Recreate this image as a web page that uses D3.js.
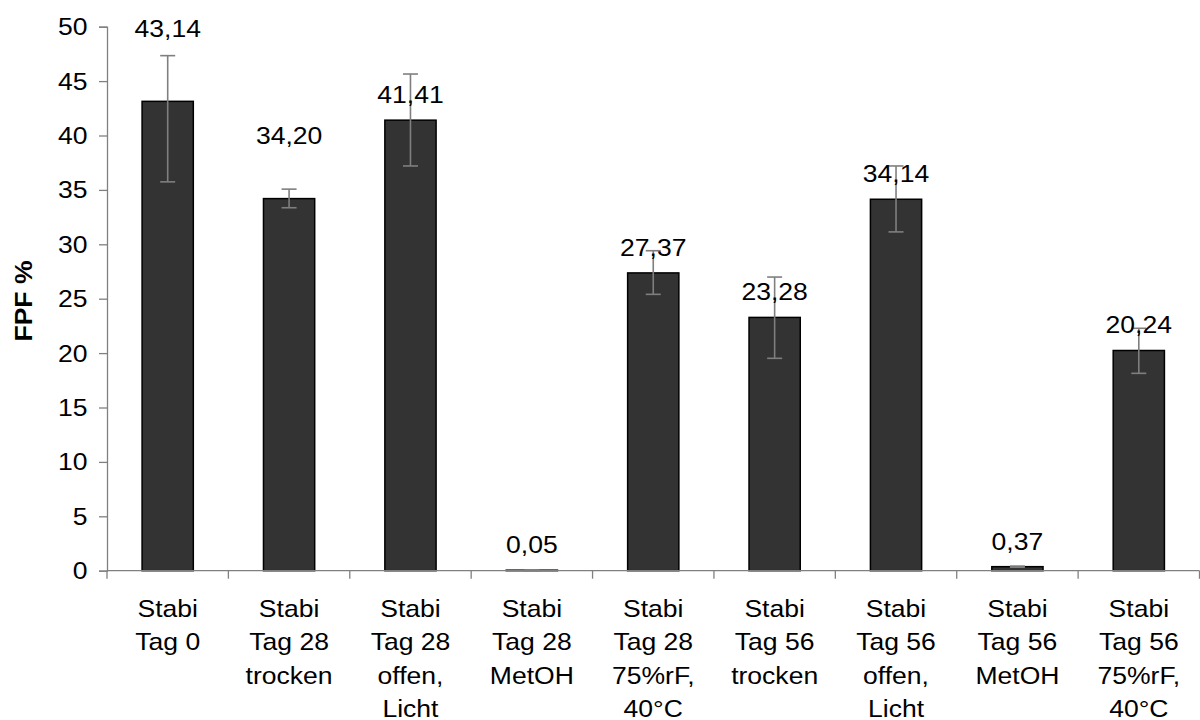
<!DOCTYPE html>
<html>
<head>
<meta charset="utf-8">
<script src="https://cdn.jsdelivr.net/npm/d3@7"></script>
<style>
  html, body { margin: 0; padding: 0; background: #fff; }
  svg { display: block; }
  text { font-family: "Liberation Sans", Arial, sans-serif; fill: #000; }
</style>
</head>
<body>
<svg id="chart" width="1200" height="720"></svg>
<script>
// ---- data ----
const categories = [
  "Stabi\nTag 0",
  "Stabi\nTag 28\ntrocken",
  "Stabi\nTag 28\noffen,\nLicht",
  "Stabi\nTag 28\nMetOH",
  "Stabi\nTag 28\n75%rF,\n40°C",
  "Stabi\nTag 56\ntrocken",
  "Stabi\nTag 56\noffen,\nLicht",
  "Stabi\nTag 56\nMetOH",
  "Stabi\nTag 56\n75%rF,\n40°C"
];
const values    = [43.14, 34.20, 41.41, 0.05, 27.37, 23.28, 34.14, 0.37, 20.24];
const errPlus   = [4.20, 0.87, 4.24, 0.03, 2.04, 3.71, 3.06, 0.05, 2.04];
const errMinus  = [7.40, 0.84, 4.21, 0.03, 1.97, 3.76, 3.00, 0.05, 2.10];
const yTicks    = [0, 5, 10, 15, 20, 25, 30, 35, 40, 45, 50];
const yTitle    = "FPF %";

// ---- layout ----
const svg = d3.select("#chart");
const mLeft = 107, mRight = 1199.5, mTop = 26.7, mBottom = 570.7;
const FS = 24.8;
const SX = 1.07;          // slight horizontal stretch of the original's text
const axisColor = "#808080";

const x = d3.scaleBand().domain(d3.range(categories.length)).range([mLeft, mRight]).padding(0);
const y = d3.scaleLinear().domain([0, 50]).range([mBottom, mTop]);
const barW = x.bandwidth() * 0.422;

// y axis
const yAxis = d3.axisLeft(y).tickValues(yTicks).tickSize(8).tickPadding(11).tickFormat(d3.format("d"));
const gy = svg.append("g").attr("transform", `translate(${mLeft},0)`).call(yAxis);
gy.select(".domain").attr("stroke", axisColor).attr("stroke-width", 1.3);
gy.selectAll(".tick line").attr("stroke", axisColor).attr("stroke-width", 1.3);
gy.selectAll(".tick text")
  .attr("font-size", FS)
  .attr("font-family", "Liberation Sans, Arial, sans-serif")
  .attr("fill", "#000")
  .attr("x", -19.5 / SX)
  .attr("transform", `scale(${SX},1)`);

// y title
svg.append("text")
  .attr("transform", `translate(23,301) rotate(-90) scale(${SX},1)`)
  .attr("text-anchor", "middle")
  .attr("dy", "0.36em")
  .attr("font-size", FS)
  .attr("font-weight", "bold")
  .text(yTitle);

// bars
svg.append("g").selectAll("rect").data(values).join("rect")
  .attr("x", (d, i) => x(i) + (x.bandwidth() - barW) / 2)
  .attr("y", d => y(d))
  .attr("width", barW)
  .attr("height", d => y(0) - y(d))
  .attr("fill", "#333333")
  .attr("stroke", "#000")
  .attr("stroke-width", 1.5);

// x axis line and ticks
svg.append("line")
  .attr("x1", mLeft).attr("x2", mRight)
  .attr("y1", y(0)).attr("y2", y(0))
  .attr("stroke", axisColor).attr("stroke-width", 1.3);
const bounds = categories.map((c, i) => x(i)).concat([mRight]);
svg.append("g").selectAll("line").data(bounds).join("line")
  .attr("x1", d => d).attr("x2", d => d)
  .attr("y1", y(0)).attr("y2", y(0) + 8)
  .attr("stroke", axisColor).attr("stroke-width", 1.3);

// error bars
const cap = 7.5;
const eg = svg.append("g").attr("stroke", "#7f7f7f").attr("stroke-width", 1.6);
values.forEach((v, i) => {
  const cx = x(i) + x.bandwidth() / 2;
  const yTop = y(v + errPlus[i]), yBot = y(v - errMinus[i]);
  eg.append("line").attr("x1", cx).attr("x2", cx).attr("y1", yTop).attr("y2", yBot);
  eg.append("line").attr("x1", cx - cap).attr("x2", cx + cap).attr("y1", yTop).attr("y2", yTop);
  eg.append("line").attr("x1", cx - cap).attr("x2", cx + cap).attr("y1", yBot).attr("y2", yBot);
});

// value labels
const fmt = v => v.toFixed(2).replace(".", ",");
const liftExtra = {0: 47, 1: 38};   // labels moved up manually in the original
svg.append("g").selectAll("text").data(values).join("text")
  .attr("transform", (d, i) => `translate(${x(i) + x.bandwidth() / 2},${y(d) - 17 - (liftExtra[i] || 0)}) scale(${SX},1)`)
  .attr("text-anchor", "middle")
  .attr("font-size", FS)
  .text(d => fmt(d));

// category labels
const cg = svg.append("g");
categories.forEach((c, i) => {
  const t = cg.append("text")
    .attr("transform", `translate(${x(i) + x.bandwidth() / 2},${y(0) + 46.3}) scale(${SX},1)`)
    .attr("text-anchor", "middle")
    .attr("font-size", FS);
  c.split("\n").forEach((line, k) => {
    t.append("tspan")
      .attr("x", 0)
      .attr("dy", k === 0 ? 0 : 33.4)
      .text(line);
  });
});
</script>
</body>
</html>
